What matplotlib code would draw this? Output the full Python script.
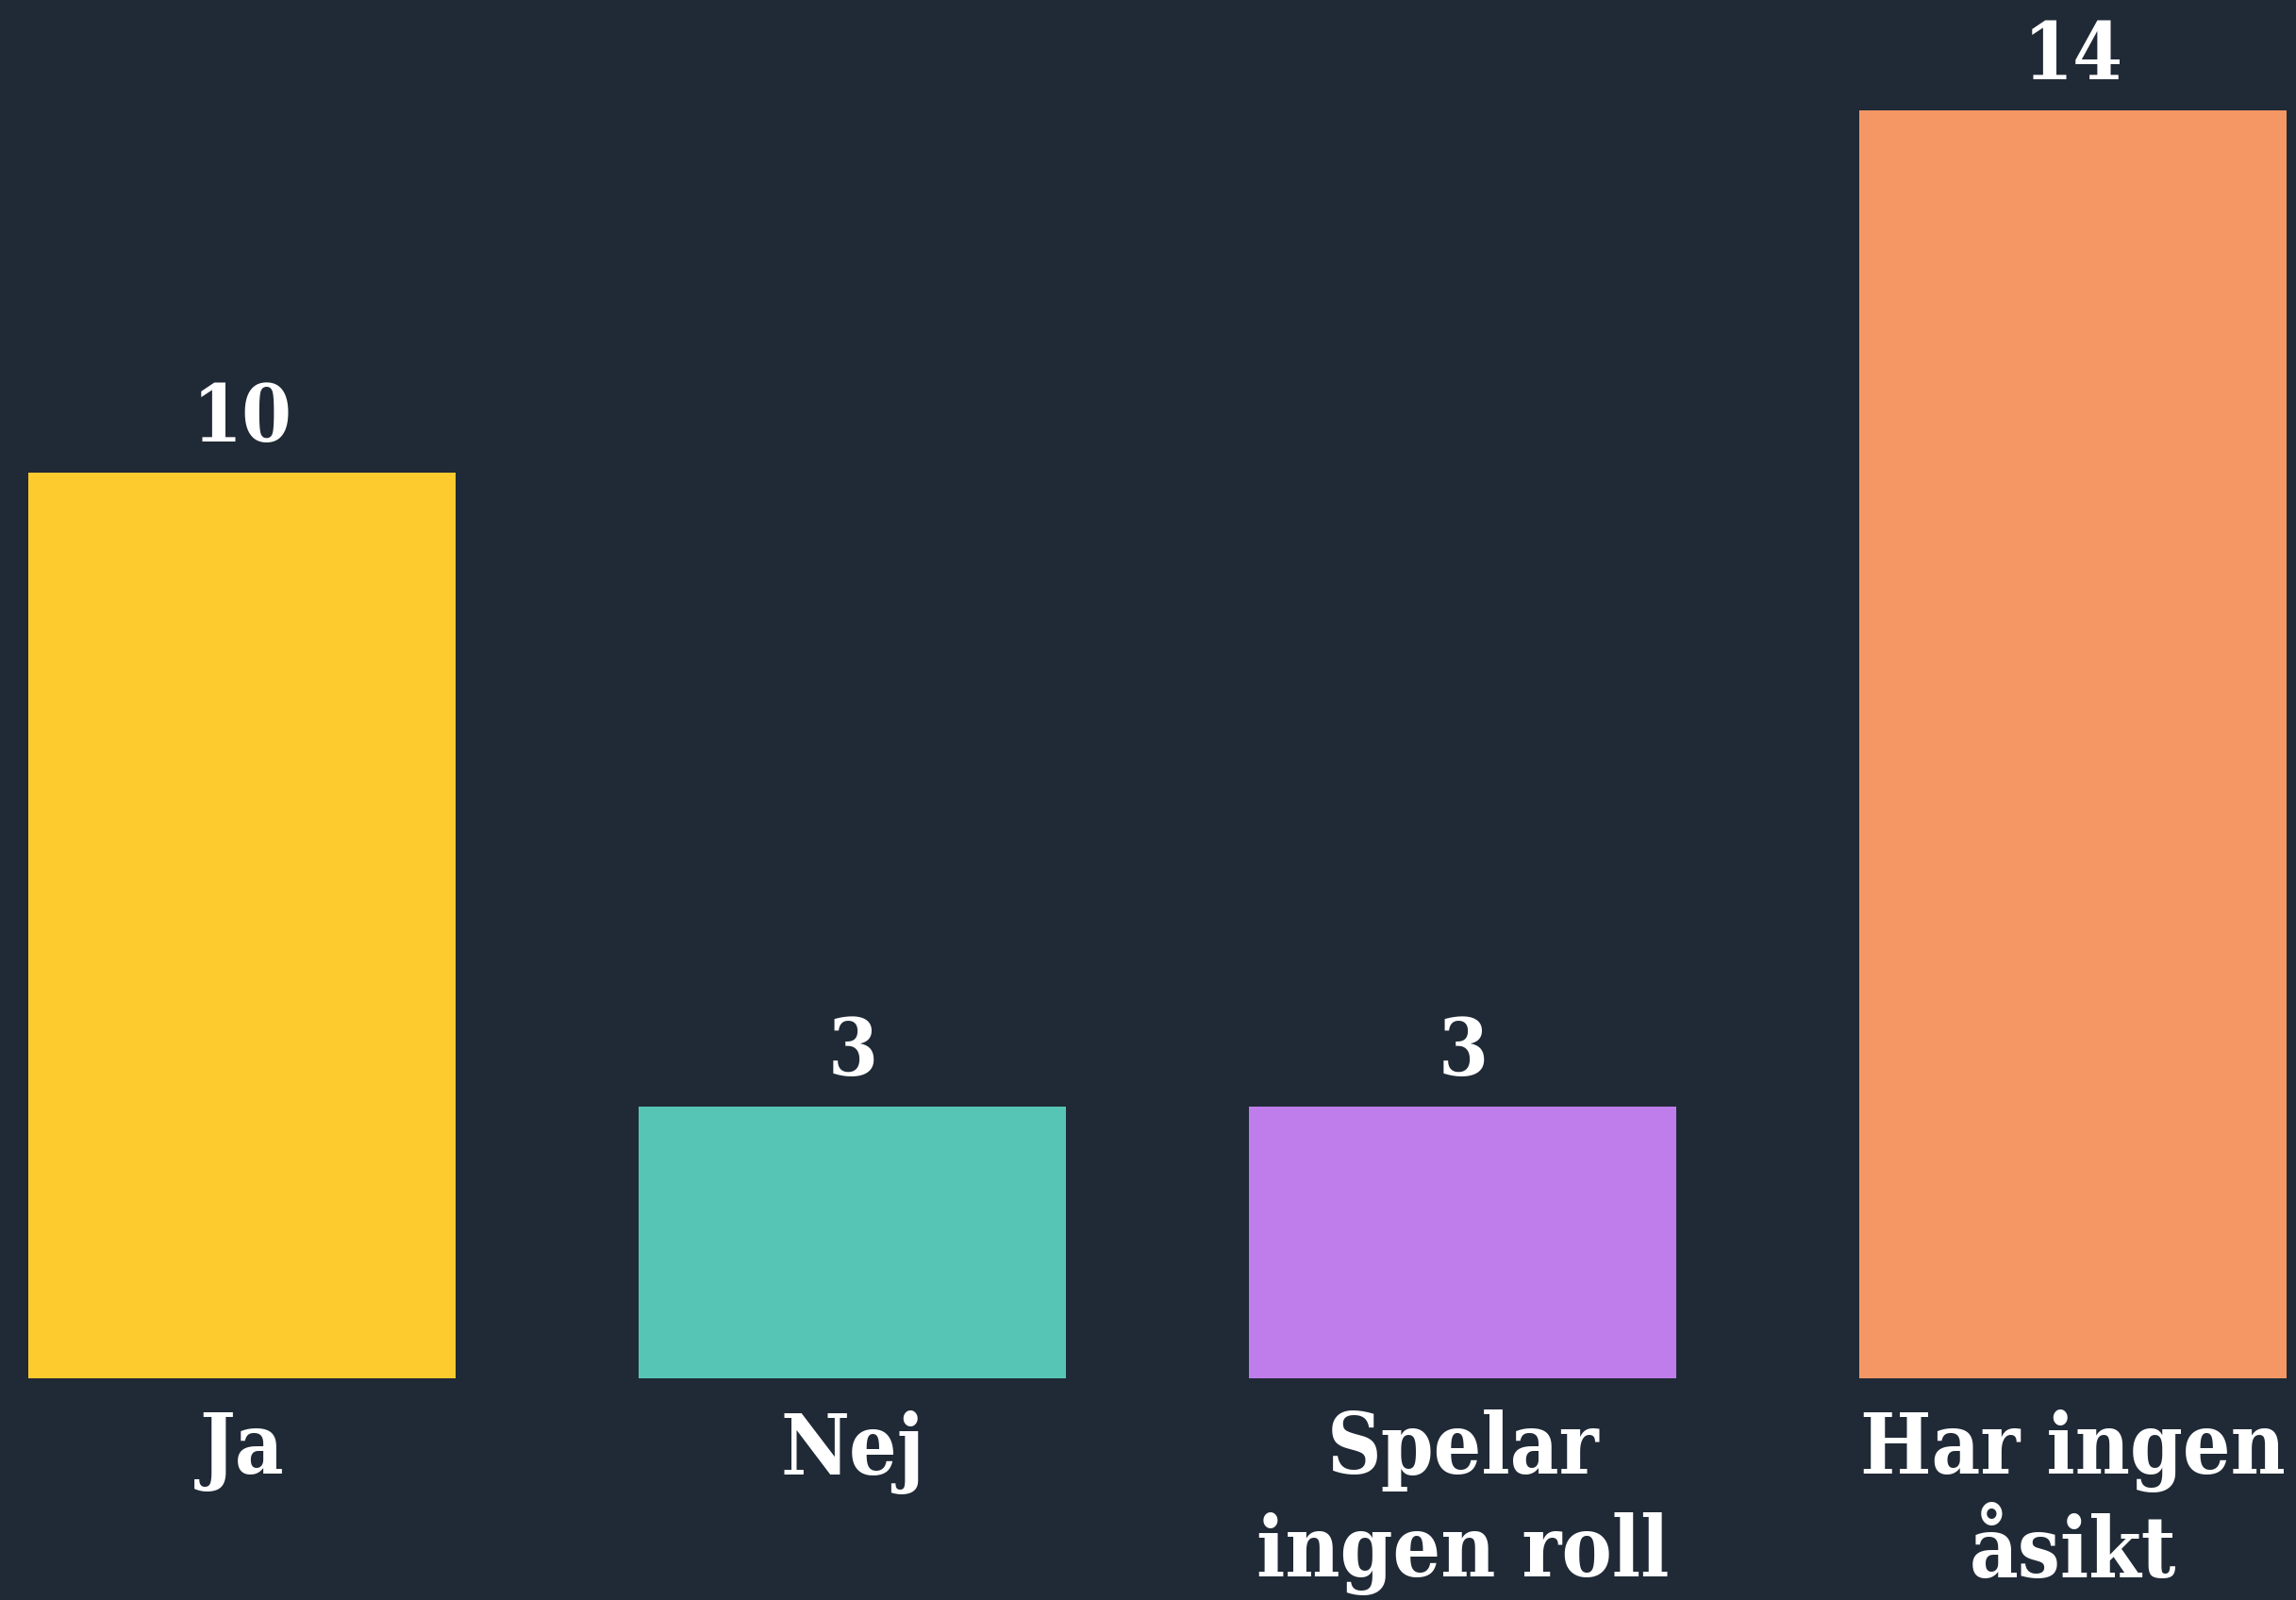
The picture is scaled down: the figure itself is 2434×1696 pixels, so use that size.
import matplotlib

matplotlib.use("Agg")
import matplotlib.pyplot as plt
from matplotlib.transforms import blended_transform_factory

# Chart data
categories = ["Ja", "Nej", "Spelar\ningen roll", "Har ingen\nåsikt"]
values = [10, 3, 3, 14]
colors = ["#FDCB2E", "#56C5B5", "#BE7DEA", "#F59764"]

BG = "#202A36"
FONT = "DejaVu Serif"

fig = plt.figure(figsize=(24.34, 16.96), dpi=100, facecolor=BG)
ax = fig.add_axes([0, 0.1386, 1, 0.7924])
ax.set_facecolor(BG)

x = list(range(len(categories)))
bars = ax.bar(x, values, width=0.7, color=colors)

ax.set_xlim(-0.397, 3.365)
ax.set_ylim(0, 14)
ax.axis("off")

# value labels above bars
for rect, v in zip(bars, values):
    ax.annotate(
        str(v),
        (rect.get_x() + rect.get_width() / 2, rect.get_height()),
        xytext=(0, 24),
        textcoords="offset points",
        ha="center",
        va="baseline",
        color="white",
        fontsize=61,
        fontweight="bold",
        fontstretch="condensed",
        family=FONT,
    )

# category labels below bars
trans = blended_transform_factory(ax.transData, ax.transAxes)
for xi, label in zip(x, categories):
    ax.annotate(
        label,
        (xi, 0),
        xycoords=trans,
        xytext=(0, -24),
        textcoords="offset points",
        ha="center",
        va="top",
        color="white",
        fontsize=64,
        fontweight="bold",
        fontstretch="condensed",
        family=FONT,
        linespacing=1.32,
    )

fig.savefig("out.png", dpi=100, facecolor=BG)
